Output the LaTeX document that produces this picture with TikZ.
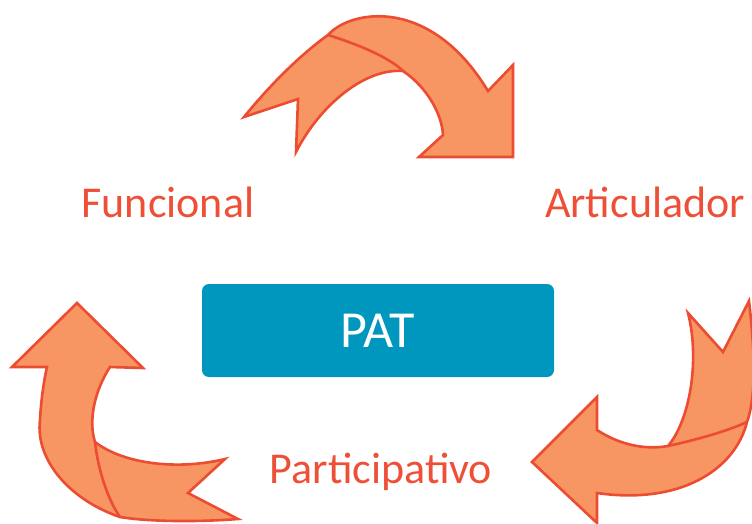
\documentclass[tikz,border=0pt]{standalone}
\usepackage{fontspec}
\setmainfont{Carlito}
\definecolor{arrowfill}{RGB}{247,150,98}
\definecolor{arrowline}{RGB}{236,76,50}
\definecolor{labelcol}{RGB}{238,80,55}
\definecolor{boxcol}{RGB}{0,151,190}
\begin{document}
\begin{tikzpicture}[x=1pt,y=-1pt,
  arrowshape/.style={fill=arrowfill,draw=arrowline,line width=2.6pt,line join=miter},
  foldline/.style={draw=arrowline,line width=2.6pt},
  label/.style={text=labelcol,font=\fontsize{44}{50}\selectfont,anchor=base,inner sep=0pt},
  centerbox/.style={fill=boxcol,rounded corners=7pt,minimum width=352pt,minimum height=93pt,inner sep=0pt,text=white,font=\fontsize{52}{58}\selectfont}]
\useasboundingbox (0,0) rectangle (752,524);
% top arrow
\path[arrowshape] (244,117) .. controls (270,85) and (300,55) .. (328,35)
  .. controls (350,10) and (430,-5) .. (488,91)
  -- (513,65) -- (513,157) -- (419,157) -- (443,135)
  .. controls (442,115) and (428,88) .. (403,71)
  .. controls (365,68) and (320,105) .. (296,152)
  -- (298,99) -- cycle;
\draw[foldline] (328,35) .. controls (360,45) and (390,58) .. (403,71);
% right arrow
\path[arrowshape] (688,313) -- (723,352) -- (749,301)
  .. controls (756,360) and (755,400) .. (747,422)
  .. controls (735,470) and (680,505) .. (597,493)
  -- (597,523) -- (532,462) -- (597,397) -- (597,430)
  .. controls (620,445) and (645,450) .. (668,446)
  .. controls (690,420) and (700,360) .. cycle;
\draw[foldline] (668,446) .. controls (695,440) and (725,432) .. (747,422);
% left arrow
\path[arrowshape] (77,303) -- (143,368) -- (110,367)
  .. controls (95,390) and (88,420) .. (95,442)
  .. controls (125,465) and (180,470) .. (225,459)
  -- (188,493) -- (238,519)
  .. controls (200,522) and (150,522) .. (120,517)
  .. controls (70,500) and (35,460) .. (40,420)
  .. controls (41,400) and (44,380) .. (47,367)
  -- (12,367) -- cycle;
\draw[foldline] (95,442) .. controls (98,470) and (108,500) .. (120,517);
% labels
\node[label] (func) at (168,217) {Funcional};
\node[label] (artic) at (645,217) {Articulador};
\node[label] (part) at (381,483) {Participativo};
\node[centerbox] (pat) at (378,330.5) {PAT};
\end{tikzpicture}
\end{document}
